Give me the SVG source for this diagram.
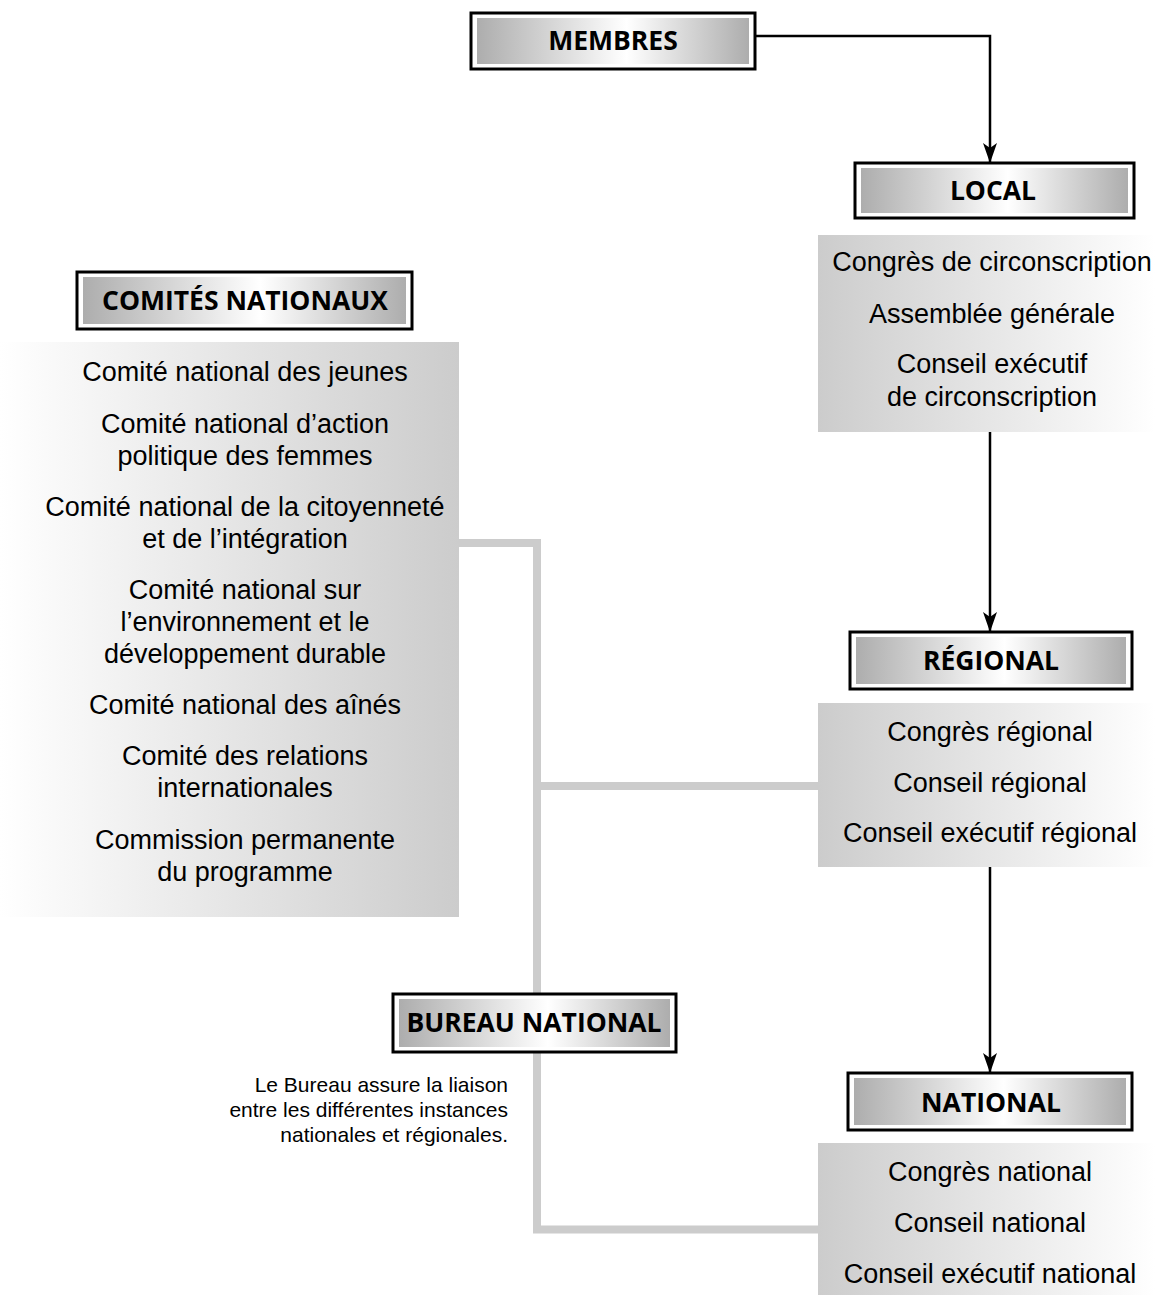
<svg xmlns="http://www.w3.org/2000/svg" width="1155" height="1301" viewBox="0 0 1155 1301">
<defs>
<linearGradient id="boxg" x1="0" y1="0" x2="1" y2="0">
<stop offset="0" stop-color="#adadad"/>
<stop offset="0.55" stop-color="#ffffff"/>
<stop offset="1" stop-color="#adadad"/>
</linearGradient>
<linearGradient id="leftg" x1="0" y1="0" x2="1" y2="0">
<stop offset="0" stop-color="#ffffff"/>
<stop offset="1" stop-color="#cccccc"/>
</linearGradient>
<linearGradient id="rightg" x1="0" y1="0" x2="1" y2="0">
<stop offset="0" stop-color="#cccccc"/>
<stop offset="1" stop-color="#ffffff"/>
</linearGradient>
<marker id="arr" viewBox="0 0 20 14" refX="20" refY="7" markerWidth="20" markerHeight="14" markerUnits="userSpaceOnUse" orient="auto">
<path d="M0,0 L20,7 L0,14 L5,7 Z" fill="#000"/>
</marker>
</defs>
<style>
.outer{fill:#fff;stroke:#000;stroke-width:3}
.inner{fill:url(#boxg)}
.head{font-family:"Open Sans","Liberation Sans",sans-serif;font-weight:bold;font-size:26.5px;fill:#000;text-anchor:middle}
.item{font-family:"Liberation Sans",Arial,sans-serif;font-size:27px;fill:#000;text-anchor:middle}
.note{font-family:"Liberation Sans",Arial,sans-serif;font-size:21px;fill:#000;text-anchor:end}
.gray{fill:none;stroke:#cccccc;stroke-width:8}
.blk{fill:none;stroke:#000;stroke-width:2.5}
</style>
<rect width="1155" height="1301" fill="#fff"/>

<g id="panel-comites">
<rect x="0" y="342" width="459" height="575" fill="url(#leftg)"/>
<text class="item" x="245" y="381">Comité national des jeunes</text>
<text class="item" x="245" y="433">Comité national d’action</text>
<text class="item" x="245" y="465">politique des femmes</text>
<text class="item" x="245" y="516">Comité national de la citoyenneté</text>
<text class="item" x="245" y="548">et de l’intégration</text>
<text class="item" x="245" y="599">Comité national sur</text>
<text class="item" x="245" y="631">l’environnement et le</text>
<text class="item" x="245" y="663">développement durable</text>
<text class="item" x="245" y="714">Comité national des aînés</text>
<text class="item" x="245" y="765">Comité des relations</text>
<text class="item" x="245" y="797">internationales</text>
<text class="item" x="245" y="849">Commission permanente</text>
<text class="item" x="245" y="881">du programme</text>
</g>

<g id="connectors">
<path class="gray" d="M459,543 H537 V1229.5 H818"/>
<path class="gray" d="M537,786 H818"/>
<path class="blk" d="M755,36 H990 V163" marker-end="url(#arr)"/>
<path class="blk" d="M990,432 V632" marker-end="url(#arr)"/>
<path class="blk" d="M990,867 V1073" marker-end="url(#arr)"/>
</g>

<g id="membres">
<rect class="outer" x="471" y="13" width="284" height="56"/>
<rect class="inner" x="477" y="18" width="272" height="46"/>
<text class="head" x="613" y="50">MEMBRES</text>
</g>

<g id="local">
<rect class="outer" x="855" y="163" width="279" height="55"/>
<rect class="inner" x="861" y="168" width="267" height="45"/>
<text class="head" x="993" y="200">LOCAL</text>
</g>

<g id="panel-local">
<rect x="818" y="235" width="337" height="197" fill="url(#rightg)"/>
<text class="item" x="992" y="271">Congrès de circonscription</text>
<text class="item" x="992" y="323">Assemblée générale</text>
<text class="item" x="992" y="373">Conseil exécutif</text>
<text class="item" x="992" y="406">de circonscription</text>
</g>

<g id="comites-nationaux">
<rect class="outer" x="77" y="272" width="335" height="57"/>
<rect class="inner" x="83" y="277" width="323" height="47"/>
<text class="head" x="245" y="310">COMITÉS NATIONAUX</text>
</g>

<g id="regional">
<rect class="outer" x="850" y="632" width="282" height="57"/>
<rect class="inner" x="856" y="637" width="270" height="47"/>
<text class="head" x="991" y="670">RÉGIONAL</text>
</g>

<g id="panel-regional">
<rect x="818" y="703" width="337" height="164" fill="url(#rightg)"/>
<text class="item" x="990" y="741">Congrès régional</text>
<text class="item" x="990" y="792">Conseil régional</text>
<text class="item" x="990" y="842">Conseil exécutif régional</text>
</g>

<g id="bureau-national">
<rect class="outer" x="393" y="994" width="283" height="58"/>
<rect class="inner" x="399" y="999" width="271" height="48"/>
<text class="head" x="534" y="1032">BUREAU NATIONAL</text>
<text class="note" x="508" y="1092">Le Bureau assure la liaison</text>
<text class="note" x="508" y="1117">entre les différentes instances</text>
<text class="note" x="508" y="1142">nationales et régionales.</text>
</g>

<g id="national">
<rect class="outer" x="848" y="1073" width="284" height="57"/>
<rect class="inner" x="854" y="1078" width="272" height="47"/>
<text class="head" x="991" y="1112">NATIONAL</text>
</g>

<g id="panel-national">
<rect x="818" y="1143" width="337" height="152" fill="url(#rightg)"/>
<text class="item" x="990" y="1181">Congrès national</text>
<text class="item" x="990" y="1232">Conseil national</text>
<text class="item" x="990" y="1283">Conseil exécutif national</text>
</g>
</svg>
